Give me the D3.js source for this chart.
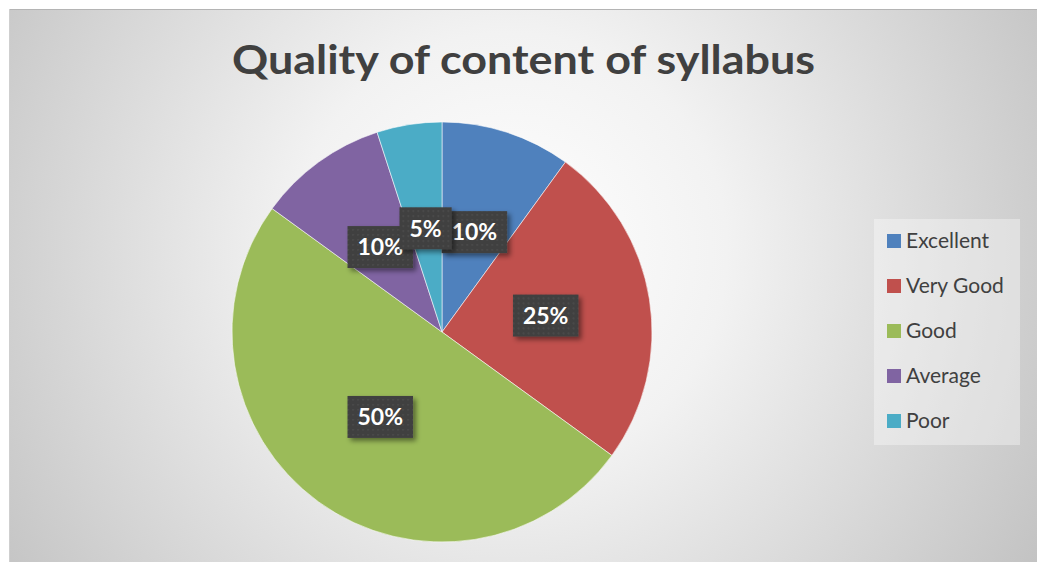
<!DOCTYPE html>
<html>
<head>
<meta charset="utf-8">
<script src="https://d3js.org/d3.v7.min.js"></script>
<style>
	body { margin: 0; background: #ffffff; }
	svg { display: block; }
</style>
</head>
<body>
<div id="chart"></div>
<script>
// =====================================================
// Pie chart: quality of content of syllabus
// =====================================================

var categories = ["Excellent", "Very Good", "Good", "Average", "Poor"];
var shares = [10, 25, 50, 10, 5];
var colors = ["#4f81bd", "#c0504d", "#9bbb59", "#8064a2", "#4bacc6"];
var title = "Quality of content of syllabus";

var width = 1037;
var height = 562;

var svg = d3.select("#chart").append("svg")
	.attr("width", width)
	.attr("height", height);

var defs = svg.append("defs");

// background gradient, white in the middle and grey to the corners
var grad = defs.append("radialGradient")
	.attr("id", "bg")
	.attr("gradientUnits", "userSpaceOnUse")
	.attr("cx", 510).attr("cy", 250).attr("r", 620);
grad.append("stop").attr("offset", "0%").attr("stop-color", "#ffffff");
grad.append("stop").attr("offset", "35%").attr("stop-color", "#f2f2f2");
grad.append("stop").attr("offset", "100%").attr("stop-color", "#c2c2c2");

// dotted texture of the data labels
var pat = defs.append("pattern")
	.attr("id", "dots")
	.attr("width", 5).attr("height", 5)
	.attr("patternUnits", "userSpaceOnUse");
pat.append("rect").attr("width", 5).attr("height", 5).attr("fill", "#404040");
pat.append("rect").attr("x", 2).attr("y", 2).attr("width", 1.5).attr("height", 1.5).attr("fill", "#4f4f4f");

var shadow = defs.append("filter")
	.attr("id", "shadow")
	.attr("x", "-30%").attr("y", "-30%").attr("width", "160%").attr("height", "160%");
shadow.append("feDropShadow")
	.attr("dx", 3).attr("dy", 3).attr("stdDeviation", 2.5)
	.attr("flood-color", "#000").attr("flood-opacity", 0.45);

svg.append("rect")
	.attr("x", 9).attr("y", 9)
	.attr("width", width - 9).attr("height", height - 9)
	.attr("fill", "url(#bg)");
svg.append("line")
	.attr("x1", 9).attr("x2", width).attr("y1", 9.5).attr("y2", 9.5)
	.attr("stroke", "#b4b4b4");
svg.append("line")
	.attr("x1", 9.5).attr("x2", 9.5).attr("y1", 9).attr("y2", height)
	.attr("stroke", "#cfcfcf");

// title
svg.append("text")
	.attr("x", 523.5)
	.attr("y", 74)
	.attr("text-anchor", "middle")
	.attr("textLength", 583)
	.attr("lengthAdjust", "spacingAndGlyphs")
	.style("font-family", "Lato, 'Open Sans', sans-serif")
	.style("font-weight", "bold")
	.style("font-size", "41px")
	.style("fill", "#404040")
	.text(title);

// pie
var cx = 442, cy = 332, radius = 210;

var pie = d3.pie().sort(null).value(function(d) { return d; });
var arcs = pie(shares);
var arc = d3.arc().innerRadius(0).outerRadius(radius);

var g = svg.append("g").attr("transform", "translate(" + cx + "," + cy + ")");

g.selectAll("path.slice")
	.data(arcs)
	.enter().append("path")
	.attr("class", "slice")
	.attr("d", arc)
	.attr("fill", function(d, i) { return colors[i]; })
	.attr("stroke", "rgba(255,255,255,0.55)")
	.attr("stroke-width", 1);

// data labels, centered at half the radius
var boxH = 42, pad = 10;
var labels = g.selectAll("g.label")
	.data(arcs)
	.enter().append("g")
	.attr("class", "label")
	.attr("transform", function(d) {
		var c = arc.centroid(d);
		return "translate(" + c[0] + "," + c[1] + ")";
	});

var box = labels.append("rect")
	.attr("y", -boxH / 2)
	.attr("height", boxH)
	.attr("fill", "url(#dots)")
	.attr("filter", "url(#shadow)");

var txt = labels.append("text")
	.attr("text-anchor", "middle")
	.attr("dy", "0.36em")
	.style("font-family", "Lato, 'Open Sans', sans-serif")
	.style("font-weight", "bold")
	.style("font-size", "23px")
	.style("fill", "#ffffff")
	.text(function(d) { return d.data + "%"; });

// box width follows the text
txt.each(function(d, i) {
	var w = this.getComputedTextLength() + 2 * pad;
	d3.select(box.nodes()[i])
		.attr("x", -w / 2)
		.attr("width", w);
});

// legend
var legend = svg.append("g");
legend.append("rect")
	.attr("x", 874).attr("y", 219)
	.attr("width", 146).attr("height", 226)
	.attr("fill", "#ffffff")
	.attr("fill-opacity", 0.35);

var ly = d3.scalePoint().domain(categories).range([241, 421]);

var items = legend.selectAll("g.item")
	.data(categories)
	.enter().append("g")
	.attr("class", "item")
	.attr("transform", function(d) { return "translate(887," + ly(d) + ")"; });

items.append("rect")
	.attr("x", 0).attr("y", -7)
	.attr("width", 14).attr("height", 14)
	.attr("fill", function(d, i) { return colors[i]; });

items.append("text")
	.attr("x", 19)
	.attr("dy", "0.35em")
	.style("font-family", "Lato, 'Open Sans', sans-serif")
	.style("font-size", "21px")
	.style("fill", "#404040")
	.text(function(d) { return d; });
</script>
</body>
</html>
